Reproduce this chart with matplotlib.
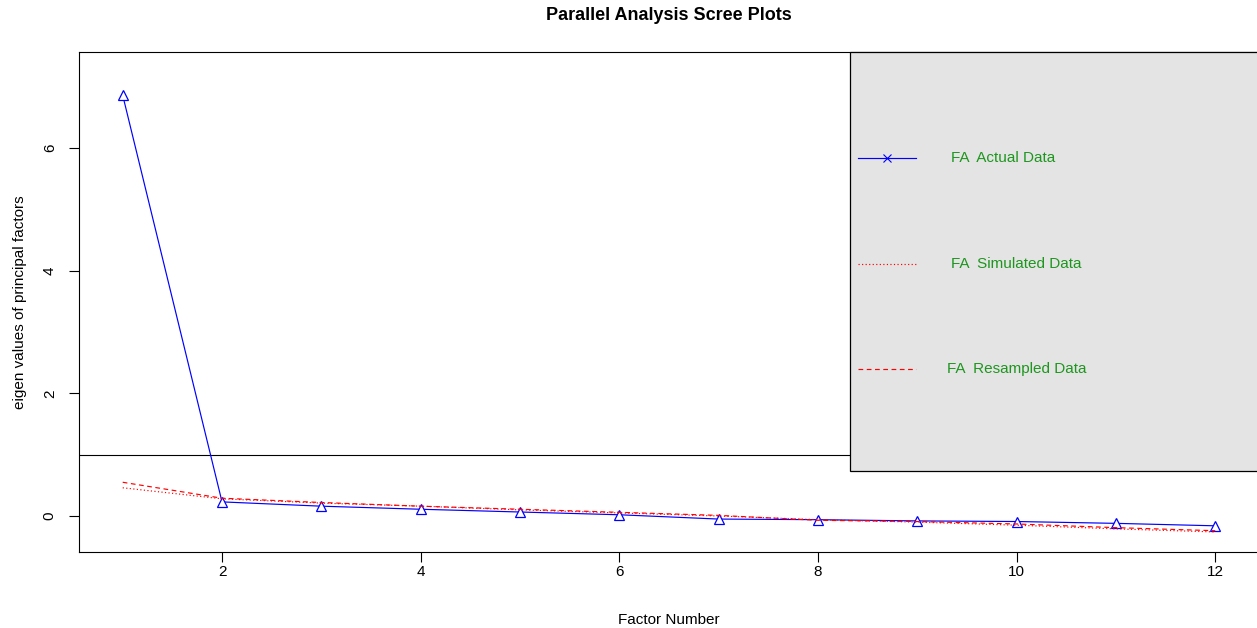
import matplotlib
matplotlib.use("Agg")
import matplotlib.pyplot as plt
from matplotlib.patches import Rectangle

plt.rcParams["font.family"] = ["Liberation Sans", "DejaVu Sans"]

factors = list(range(1, 13))
actual = [6.86, 0.23, 0.16, 0.11, 0.065, 0.02, -0.05, -0.06, -0.08, -0.09, -0.12, -0.16]
simulated = [0.46, 0.28, 0.21, 0.16, 0.10, 0.05, 0.00, -0.06, -0.10, -0.15, -0.21, -0.26]
resampled = [0.55, 0.29, 0.22, 0.16, 0.11, 0.06, 0.01, -0.07, -0.09, -0.13, -0.19, -0.24]

x_ticks = [2, 4, 6, 8, 10, 12]
y_ticks = [0, 2, 4, 6]
legend_labels = ["FA  Actual Data", "FA  Simulated Data", "FA  Resampled Data"]

BLUE = "#0000FF"
RED = "#FF0000"
GREEN = "#1E961E"


def main() -> None:
    fig = plt.figure(figsize=(12.57, 6.28), dpi=100)
    ax = fig.add_axes([79 / 1257, 76 / 628, 1180 / 1257, 500 / 628])

    ax.plot(factors, actual, color=BLUE, linewidth=0.85, marker="^", markersize=7,
            markerfacecolor="white", markeredgecolor=BLUE, markeredgewidth=0.9, zorder=2)
    ax.plot(factors, simulated, color=RED, linewidth=0.85, dashes=(1, 2), zorder=3)
    ax.plot(factors, resampled, color=RED, linewidth=0.85, dashes=(4, 3), zorder=3)
    ax.axhline(1, color="black", linewidth=0.8, zorder=1)

    ax.set_xlim(0.56, 12.44)
    ax.set_ylim(-0.587, 7.565)
    ax.set_xticks(x_ticks)
    ax.set_yticks(y_ticks)
    ax.tick_params(axis="both", direction="out", length=7, width=0.8, labelsize=11)
    ax.tick_params(axis="x", pad=2)
    ax.tick_params(axis="y", pad=9)
    for lab in ax.get_yticklabels():
        lab.set_rotation(90)
        lab.set_va("center")
    for spine in ax.spines.values():
        spine.set_linewidth(0.8)
        spine.set_clip_on(False)

    ax.set_xlabel("Factor Number", fontsize=11, labelpad=25)
    ax.set_ylabel("eigen values of principal factors", fontsize=11, labelpad=11)
    fig.text(669 / 1257, 1 - 16 / 628, "Parallel Analysis Scree Plots",
             ha="center", va="center", fontsize=13, fontweight="bold")

    # legend box drawn by hand in axes fraction
    x0 = (850 - 79) / 1180
    y0 = (552 - 471) / 500
    box = Rectangle((x0, y0), 1.2, 1 - y0, transform=ax.transAxes, facecolor="#E4E4E4",
                    edgecolor="black", linewidth=0.9, clip_on=False, zorder=4)
    ax.add_patch(box)

    rows = [158, 264, 369]
    styles = [(), (1, 2), (4, 3)]
    colors = [BLUE, RED, RED]
    text_x = [951, 951, 947]
    for row, dash, col, lab, tx in zip(rows, styles, colors, legend_labels, text_x):
        ya = (552 - row) / 500
        xa = [(858 - 79) / 1180, (916 - 79) / 1180]
        line = ax.plot(xa, [ya, ya], color=col, linewidth=0.85, transform=ax.transAxes,
                       clip_on=False, zorder=5)[0]
        if dash:
            line.set_dashes(dash)
        ax.text((tx - 79) / 1180, ya, lab, transform=ax.transAxes, color=GREEN,
                fontsize=11, va="center", ha="left", zorder=5, clip_on=False)
    ax.plot([(887 - 79) / 1180], [(552 - 158) / 500], marker="x", color=BLUE,
            markersize=6, markeredgewidth=0.8, transform=ax.transAxes, clip_on=False, zorder=6)

    fig.savefig("out.png", dpi=100)
    plt.close(fig)


if __name__ == "__main__":
    main()
